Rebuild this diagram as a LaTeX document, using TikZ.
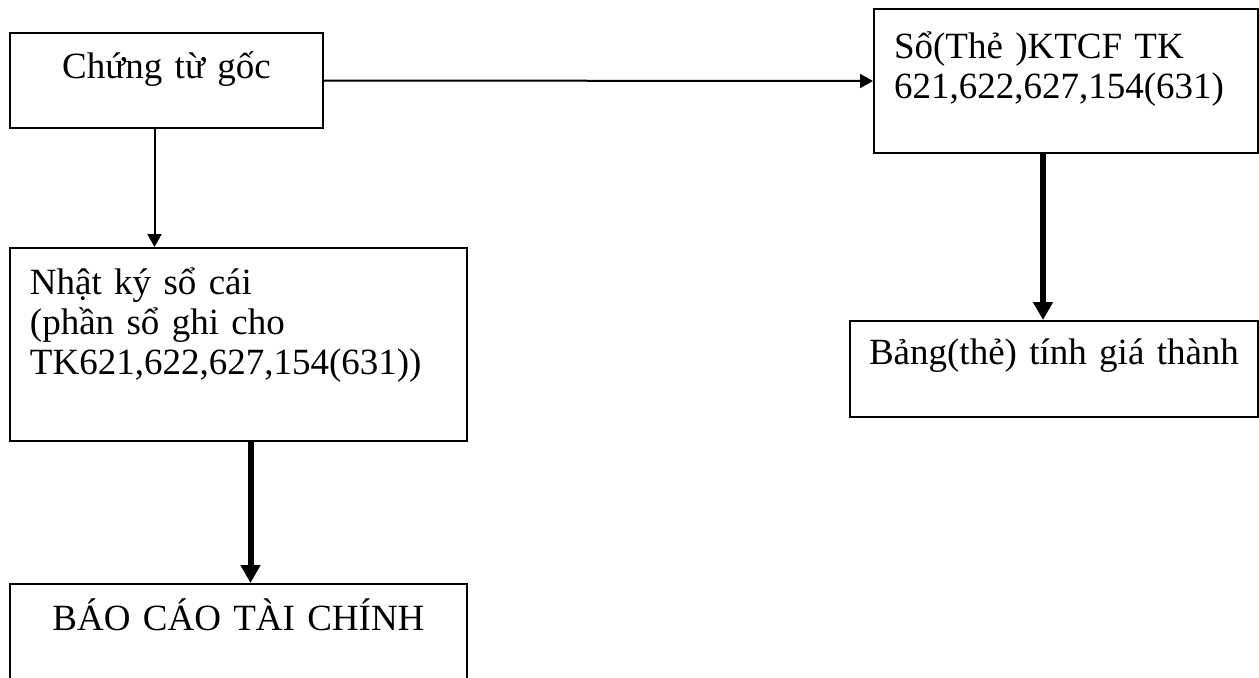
\documentclass[tikz,border=0pt]{standalone}
\usepackage{fontspec}
\setmainfont{Liberation Serif}
\usepackage{tikz}
\usetikzlibrary{
    positioning,
    arrows.meta,
    calc
}

\begin{document}
\begin{tikzpicture}[x=0.5pt, y=-0.5pt,
  font={\fontsize{18.5}{20}\selectfont},
  box/.style={draw, line width=1pt, anchor=north west, inner xsep=10pt, inner ysep=0pt},
  thinarr/.style={-{Triangle[length=6.5pt, width=7pt]}, line width=1pt},
  thickarr/.style={-{Triangle[length=9pt, width=9.5pt]}, line width=3pt}]

  \useasboundingbox (0,0) rectangle (1259,677);

  % Left column, top to bottom
  \node[box, text width=136.5pt, align=center, text height=22.5pt, text depth=25pt] (goc) at (9,32)
    {Chứng từ gốc};
  \node[box, text width=208.5pt, align=left, text height=23pt, text depth=73.5pt] (nhatky) at (9,247)
    {Nhật ký sổ cái\\(phần sổ ghi cho\\TK621,622,627,154(631))};
  \node[box, text width=208.5pt, align=center, text height=23pt, text depth=25.5pt] (bctc) at (9,583)
    {BÁO CÁO TÀI CHÍNH};

  % Right column
  \node[box, text width=172pt, align=left, text height=24.5pt, text depth=47.5pt] (sokt) at (873,8)
    {Sổ(Thẻ )KTCF TK\\621,622,627,154(631)};
  \node[box, inner xsep=4pt, text width=196pt, align=center, text height=21.5pt, text depth=26.5pt] (bang) at (849,320)
    {Bảng(thẻ) tính giá thành};

  % Thin arrows
  \draw[thinarr] (goc.east) to (sokt.west);
  \draw[thinarr] ([xshift=-6pt]goc.south) to ([xshift=-6pt]goc.south |- nhatky.north);

  % Thick arrows
  \draw[thickarr] ([xshift=-11.5pt]sokt.south) to ([xshift=-11.5pt]sokt.south |- bang.north);
  \draw[thickarr] ([xshift=6pt]nhatky.south) to ([xshift=6pt]nhatky.south |- bctc.north);
\end{tikzpicture}
\end{document}
